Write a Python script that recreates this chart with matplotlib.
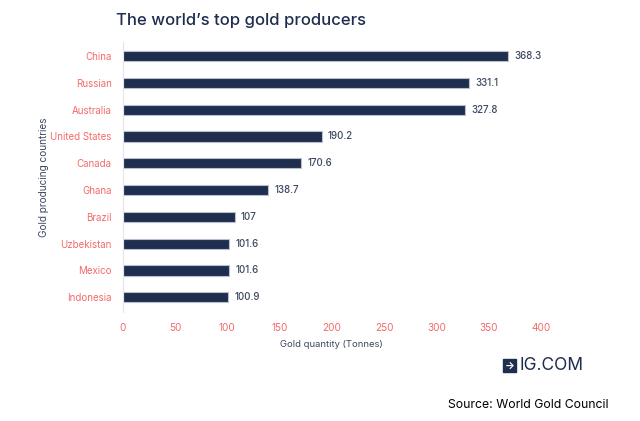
import matplotlib
matplotlib.use("Agg")
from matplotlib import pyplot as plt

countries = ["China", "Russian", "Australia", "United States", "Canada",
             "Ghana", "Brazil", "Uzbekistan", "Mexico", "Indonesia"]
tonnes = [368.3, 331.1, 327.8, 190.2, 170.6, 138.7, 107, 101.6, 101.6, 100.9]
value_labels = ["368.3", "331.1", "327.8", "190.2", "170.6",
                "138.7", "107", "101.6", "101.6", "100.9"]
x_ticks = [0, 50, 100, 150, 200, 250, 300, 350, 400]

navy = "#1f2d4e"
salmon = "#f46a6a"
grey_text = "#3c4760"

plt.rcParams["font.family"] = ["Inter", "DejaVu Sans"]

fig = plt.figure(figsize=(6.4, 4.21), dpi=100)
ax = fig.add_axes([0.192, 0.259, 0.653, 0.641])

pos = list(range(len(countries)))
ax.barh(pos, tonnes, height=0.38, color=navy, edgecolor="#b8c0cf", linewidth=0.8)
for p, v, lab in zip(pos, tonnes, value_labels):
    ax.text(v + 6, p, lab, va="center", ha="left", fontsize=7, color=grey_text,
            fontweight="medium")

ax.set_yticks(pos)
ax.set_yticklabels(countries, fontsize=7, color=salmon)
ax.set_xticks(x_ticks)
ax.set_xticklabels([str(t) for t in x_ticks], fontsize=7.2, color=salmon)
ax.set_xlim(0, 400)
ax.set_ylim(9.55, -0.52)
ax.tick_params(length=0)
ax.tick_params(axis="x", pad=8)
ax.tick_params(axis="y", pad=8)

for s in ["top", "right", "bottom"]:
    ax.spines[s].set_visible(False)
ax.spines["left"].set_color("#e3e5ea")
ax.spines["left"].set_linewidth(0.8)

ax.set_xlabel("Gold quantity (Tonnes)", fontsize=6.8, color=grey_text, labelpad=5)
ax.set_ylabel("Gold producing countries", fontsize=7.2, color=grey_text)
ax.yaxis.set_label_coords(-0.177, 0.5)

fig.text(0.377, 0.952, "The world\u2019s top gold producers", fontsize=12,
         color=navy, ha="center", va="center", fontweight="medium")

# IG.COM mark
fig.text(0.788, 0.132, "\u2192", fontsize=7.5, color="white", ha="left", va="center",
         fontweight="bold",
         bbox=dict(boxstyle="square,pad=0.12", fc=navy, ec=navy))
fig.text(0.812, 0.132, "IG.COM", fontsize=12.5, color=navy, ha="left", va="center")

fig.text(0.95, 0.038, "Source: World Gold Council", fontsize=8.8, color="black",
         ha="right", va="center")

fig.savefig("out.png", dpi=100)
